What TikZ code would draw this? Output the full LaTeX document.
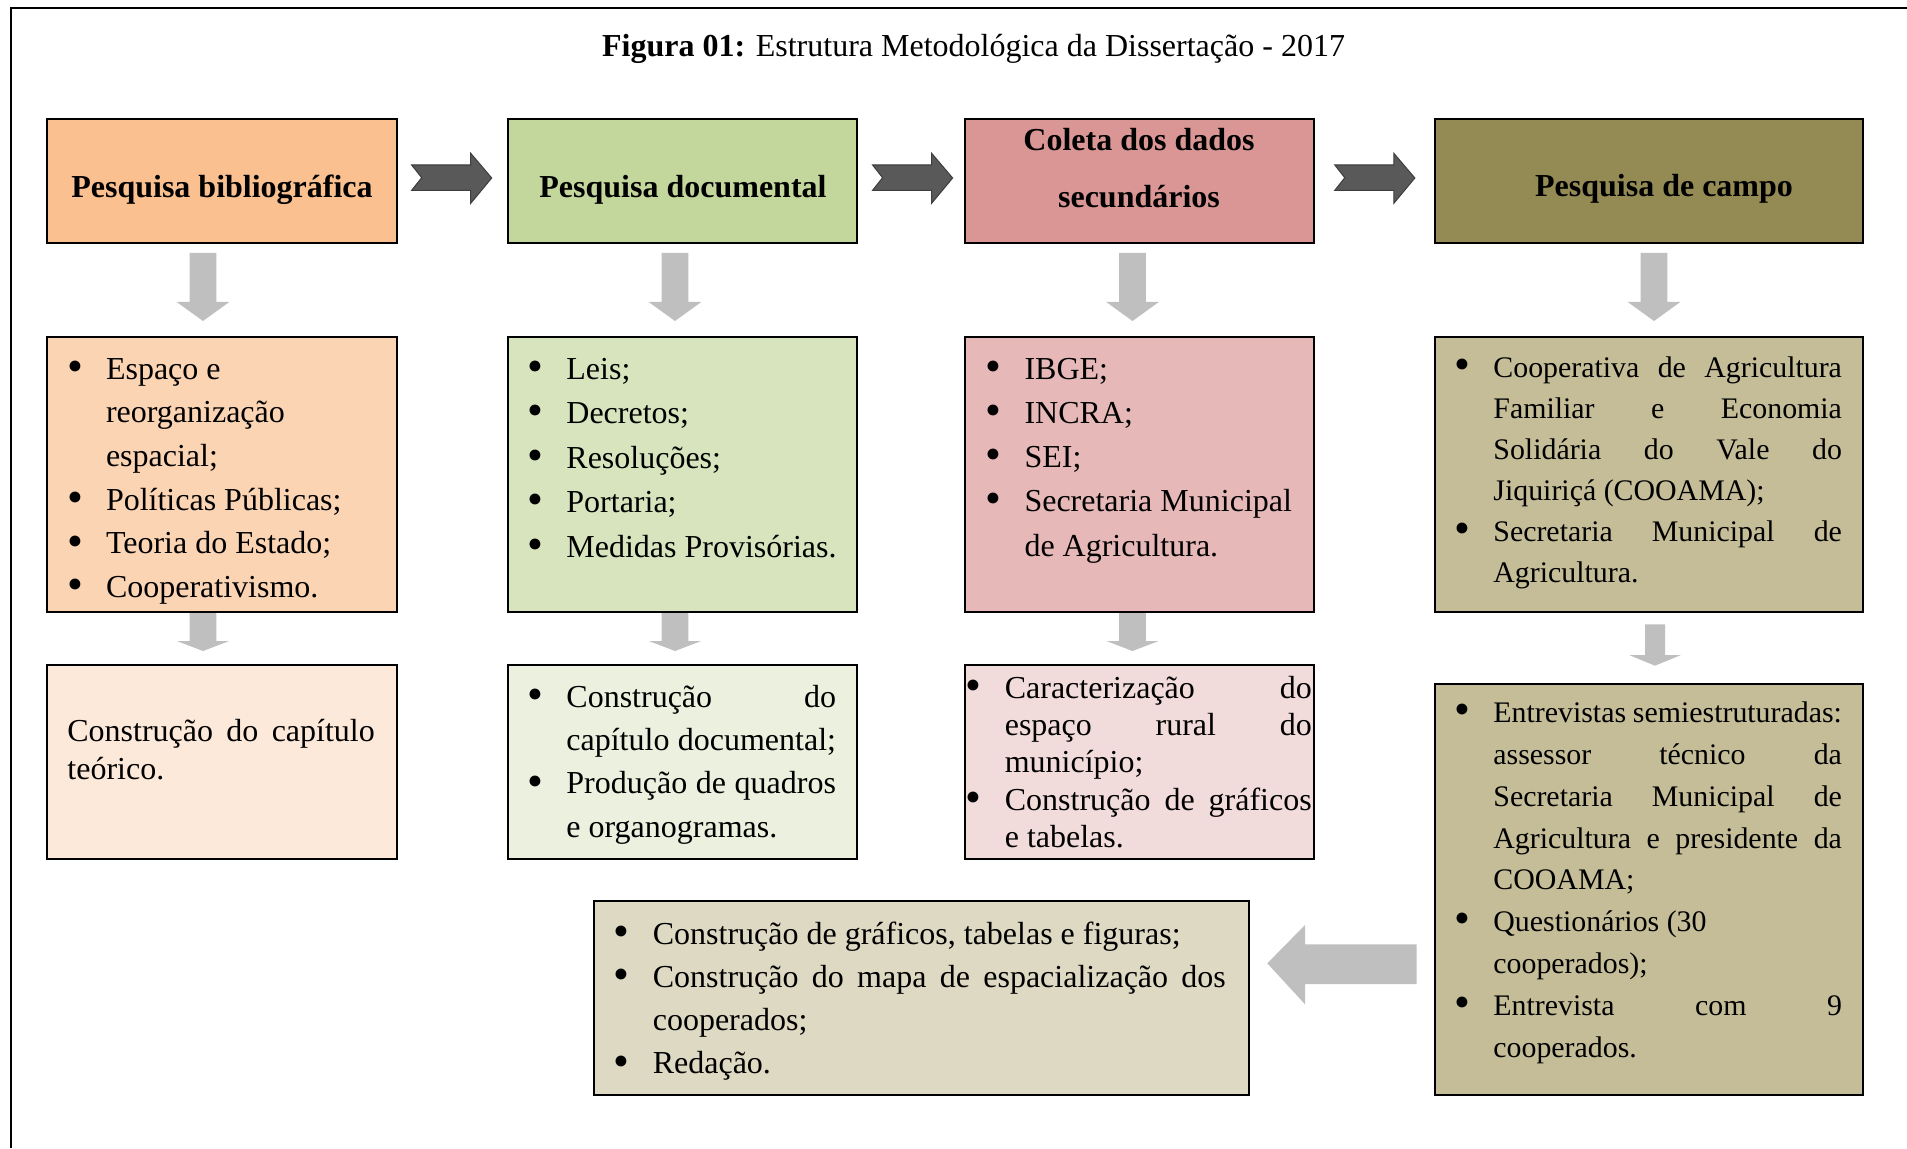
\documentclass[tikz,border=0pt]{standalone}
\usepackage{fontspec}
\setmainfont{Liberation Serif}
\usetikzlibrary{calc,fit}
\definecolor{or1}{HTML}{FAC090}
\definecolor{or2}{HTML}{FBD4B4}
\definecolor{or3}{HTML}{FDE9D9}
\definecolor{gr1}{HTML}{C3D69B}
\definecolor{gr2}{HTML}{D7E4BD}
\definecolor{gr3}{HTML}{EBF1DE}
\definecolor{rd1}{HTML}{D99694}
\definecolor{rd2}{HTML}{E6B9B8}
\definecolor{rd3}{HTML}{F2DCDB}
\definecolor{ol1}{HTML}{948A54}
\definecolor{ol2}{HTML}{C4BD97}
\definecolor{ol3}{HTML}{DDD9C3}
\definecolor{arrgray}{HTML}{BFBFBF}
\definecolor{arrdark}{HTML}{595959}
\definecolor{arredge}{HTML}{3F3F3F}
\newlength\lw
\newcommand\bulglyph{\raisebox{-0.8pt}{\fontsize{17pt}{17pt}\selectfont\textbullet}}
\newcommand\bul{\llap{\makebox[0pt]{\bulglyph}\hspace{11.6pt}}}
\newcommand\BL[2][l]{\noindent\bul\makebox[\lw][#1]{#2}\par}
\newcommand\CL[2][l]{\noindent\makebox[\lw][#1]{#2}\par}
\newcommand\txtlines[4]{\begin{minipage}[t]{#3}\setlength\lw{#3}\fontsize{#1}{#2}\selectfont #4\end{minipage}}
\tikzset{
  box/.style={draw=black, line width=0.75pt, inner sep=0pt, outer sep=0pt},
  txt/.style={anchor=base west, inner sep=0pt, outer sep=0pt},
  head/.style={anchor=base, inner sep=0pt, outer sep=0pt, font=\fontsize{12pt}{14pt}\selectfont\bfseries},
  chev/.pic={\filldraw[fill=arrdark, draw=arredge, line width=0.4pt, line join=miter]
     (0,-12.7) -- (10,0) -- (0,12.6) -- (59,12.6) -- (59,25.6) -- (80,0.3) -- (59,-24.4) -- (59,-12.7) -- cycle;},
  bigdown/.pic={\fill[arrgray] (-13.3,0) -- (13.3,0) -- (13.3,49) -- (26.3,49) -- (0,68) -- (-26.3,49) -- (-13.3,49) -- cycle;},
  smalldown/.pic={\fill[arrgray] (-13.3,0) -- (13.3,0) -- (13.3,28) -- (26.2,28) -- (0,38) -- (-26.2,28) -- (-13.3,28) -- cycle;},
  sidedown/.pic={\fill[arrgray] (-10,0) -- (10,0) -- (10,30.7) -- (26,30.7) -- (0,41.4) -- (-26,30.7) -- (-10,30.7) -- cycle;},
  leftarr/.pic={\fill[arrgray] (0,0) -- (37.7,-38.3) -- (37.7,-19) -- (149.4,-19) -- (149.4,20.7) -- (37.7,20.7) -- (37.7,41) -- cycle;}
}
\begin{document}
\begin{tikzpicture}[x=0.375pt, y=-0.375pt, font=\fontsize{12pt}{14pt}\selectfont]
\useasboundingbox (0,0) rectangle (1907,1148);
\draw[line width=0.75pt] (10.5,1148) -- (10.5,8.5) -- (1907,8.5);
\node[anchor=base, inner sep=0pt] (title) at (973.5,57) {\textbf{Figura 01:} Estrutura Metodológica da Dissertação - 2017};
% header boxes
\node[box, fill=or1, fit={(47,119) (397,243)}] (h1) {};
\node[box, fill=gr1, fit={(508,119) (857,243)}] (h2) {};
\node[box, fill=rd1, fit={(965,119) (1314,243)}] (h3) {};
\node[box, fill=ol1, fit={(1435,119) (1863,243)}] (h4) {};
% second row
\node[box, fill=or2, fit={(47,337) (397,612)}] (b1) {};
\node[box, fill=gr2, fit={(508,337) (857,612)}] (b2) {};
\node[box, fill=rd2, fit={(965,337) (1314,612)}] (b3) {};
\node[box, fill=ol2, fit={(1435,337) (1863,612)}] (b4) {};
% third row
\node[box, fill=or3, fit={(47,665) (397,859)}] (c1) {};
\node[box, fill=gr3, fit={(508,665) (857,859)}] (c2) {};
\node[box, fill=rd3, fit={(965,665) (1314,859)}] (c3) {};
\node[box, fill=ol2, fit={(1435,684) (1863,1095)}] (c4) {};
\node[box, fill=ol3, fit={(594,901) (1249,1095)}] (d) {};
% header texts
\node[head] (h1t) at (222,198) {Pesquisa bibliográfica};
\node[head] (h2t) at (683,198) {Pesquisa documental};
\node[head] (h3ta) at (1139,151) {Coleta dos dados};
\node[head] (h3tb) at (1139,208) {secundários};
\node[head] (h4t) at (1664,197) {Pesquisa de campo};
% chevron arrows between headers
\pic at ($(h1.east)!0.5!(h2.west)+(-40.8,-3.3)$) {chev};
\pic at ($(h2.east)!0.5!(h3.west)+(-38.4,-3.3)$) {chev};
\pic at ($(h3.east)!0.5!(h4.west)+(-39.7,-3.3)$) {chev};
% down arrows
\pic at ($(h1.south)+(-19,10)$) {bigdown};
\pic at ($(h2.south)+(-7.5,10)$) {bigdown};
\pic at ($(h3.south)+(-7,10)$) {bigdown};
\pic at ($(h4.south)+(5,10)$) {bigdown};
\pic at ($(b1.south)+(-19,1)$) {smalldown};
\pic at ($(b2.south)+(-7.5,1)$) {smalldown};
\pic at ($(b3.south)+(-7,1)$) {smalldown};
\pic at ($(b4.south)+(6,12.3)$) {sidedown};
\pic at ($(d.east)+(18.3,-34.7)$) {leftarr};
% box texts
\node[txt] (b1t) at (106,379) {\txtlines{12pt}{16.4pt}{110pt}{\BL{Espaço e}\CL{reorganização}\CL{espacial;}\BL{Políticas Públicas;}\BL{Teoria do Estado;}\BL{Cooperativismo.}}};
\node[txt] (b2t) at (566.4,379) {\txtlines{12pt}{16.69pt}{105pt}{\BL{Leis;}\BL{Decretos;}\BL{Resoluções;}\BL{Portaria;}\BL{Medidas Provisórias.}}};
\node[txt] (b3t) at (1024.5,379) {\txtlines{12pt}{16.6pt}{105pt}{\BL{IBGE;}\BL{INCRA;}\BL{SEI;}\BL{Secretaria Municipal}\CL{de Agricultura.}}};
\node[txt] (b4t) at (1493.4,377) {\txtlines{11.2pt}{15.4pt}{130.7pt}{\BL[s]{Cooperativa de Agricultura}\CL[s]{Familiar e Economia}\CL[s]{Solidária do Vale do}\CL{Jiquiriçá (COOAMA);}\BL[s]{Secretaria Municipal de}\CL{Agricultura.}}};
\node[txt] (c1t) at (67.4,741.5) {\txtlines{12pt}{14.25pt}{115.3pt}{\CL[s]{Construção do capítulo}\CL{teórico.}}};
\node[txt] (c2t) at (566.4,707.5) {\txtlines{12pt}{16.2pt}{101.1pt}{\BL[s]{Construção do}\CL[s]{capítulo documental;}\BL[s]{Produção de quadros}\CL{e organogramas.}}};
\node[txt] (c3t) at (1004.8,698) {\txtlines{12pt}{14.06pt}{115.1pt}{\BL[s]{Caracterização do}\CL[s]{espaço rural do}\CL{município;}\BL[s]{Construção de gráficos}\CL{e tabelas.}}};
\node[txt] (c4t) at (1493.4,722.5) {\txtlines{11.2pt}{15.7pt}{130.7pt}{\BL[s]{Entrevistas semiestruturadas:}\CL[s]{assessor técnico da}\CL[s]{Secretaria Municipal de}\CL[s]{Agricultura e presidente da}\CL{COOAMA;}\BL{Questionários (30}\CL{cooperados);}\BL[s]{Entrevista com 9}\CL{cooperados.}}};
\node[txt] (dt) at (652.8,944) {\txtlines{12pt}{16.24pt}{214.9pt}{\BL{Construção de gráficos, tabelas e figuras;}\BL[s]{Construção do mapa de espacialização dos}\CL{cooperados;}\BL{Redação.}}};
\end{tikzpicture}
\end{document}
